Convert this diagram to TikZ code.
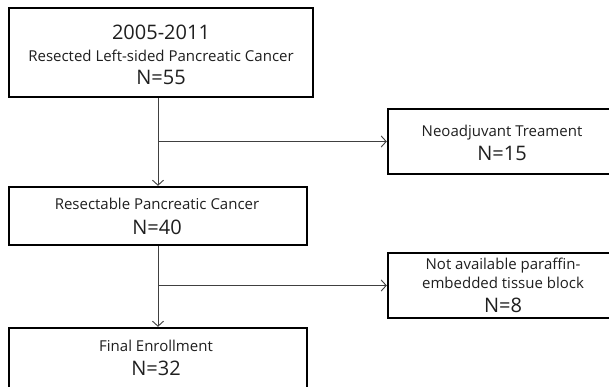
\documentclass[tikz,border=0pt]{standalone}
\usepackage{fontspec}
\setmainfont{Open Sans}
\usetikzlibrary{arrows.meta}
\tikzset{
  box/.style={draw=black, line width=2.4pt, rectangle, inner sep=0pt},
  conn/.style={draw=black!75, line width=0.9pt, -{Straight Barb[length=5pt,width=11pt,line width=0.9pt]}},
  big/.style={anchor=base, inner sep=0pt, text=black!88, font=\fontsize{20}{22}\selectfont},
  small/.style={anchor=base, inner sep=0pt, text=black!88, font=\fontsize{15}{17}\selectfont},
}
\begin{document}
\begin{tikzpicture}[x=1pt,y=-1pt]
\useasboundingbox (0,0) rectangle (609,387);
\fill[white] (0,0) rectangle (609,387);
\node[box, minimum width=304pt, minimum height=89pt] (b1) at (161,52.5) {};
\node[box, minimum width=227pt, minimum height=65pt] (b2) at (501.5,141.5) {};
\node[box, minimum width=298pt, minimum height=58pt] (b3) at (158,216) {};
\node[box, minimum width=298pt, minimum height=67pt] (b4) at (158,361.5) {};
\node[box, minimum width=227pt, minimum height=65pt] (b5) at (501.5,285.5) {};
% texts
\node[big]   (t1a) at (161,39.1) {2005-2011};
\node[small] (t1b) at (161,61.4) {Resected Left-sided Pancreatic Cancer};
\node[big]   (t1c) at (161,84.1) {N=55};
\node[small] (t2a) at (502,136.4) {Neoadjuvant Treament};
\node[big]   (t2b) at (502,160.1) {N=15};
\node[small] (t3a) at (157,209.4) {Resectable Pancreatic Cancer};
\node[big]   (t3b) at (157,234.1) {N=40};
\node[small] (t4a) at (156,351.4) {Final Enrollment};
\node[big]   (t4b) at (156,375.1) {N=32};
\node[small] (t5a) at (503,269.4) {Not available paraffin-};
\node[small] (t5b) at (503,288.4) {embedded tissue block};
\node[big]   (t5c) at (503,312.1) {N=8};
% connectors
\draw[conn] (b1.south -| b3.north) -- (b3.north);
\draw[conn] (b2.west -| b3.north) -- (b2.west);
\draw[conn] (b3.south) -- (b4.north);
\draw[conn] (b5.west -| b3.south) -- (b5.west);
\end{tikzpicture}
\end{document}
